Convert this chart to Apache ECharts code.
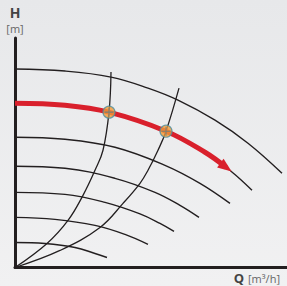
<!DOCTYPE html>
<html>
<head>
<meta charset="utf-8">
<script src="https://cdn.jsdelivr.net/npm/echarts@6/dist/echarts.min.js"></script>
<style>
  html, body {
    margin: 0;
    padding: 0;
    width: 287px;
    height: 286px;
    background: linear-gradient(#e7e8ea, #f1f1f2);
  }
  #chart {
    width: 287px;
    height: 286px;
  }
</style>
</head>
<body>
<div id="chart"></div>
<script>
// pump curves, [Q, H] in chart units (origin bottom-left)
const pump1 = [[0, 198], [50, 196], [96, 190], [133, 179], [163, 167], [200, 147], [233, 124], [267, 94]]
const pump2 = [[0, 164], [50, 162], [94, 155], [151, 136], [190, 115], [216, 96], [237, 77]]
const pump3 = [[0, 130], [50, 128], [100, 120], [150, 102], [185, 84], [215, 64]]
const pump4 = [[0, 101], [50, 99], [100, 89], [140, 75], [165, 62], [184, 50]]
const pump5 = [[0, 75], [50, 73], [90, 65], [125, 53.5], [145, 44], [159, 36]]
const pump6 = [[0, 50], [40, 48], [80, 42], [110, 33], [133, 23]]
const pump7 = [[0, 25], [30, 24], [60, 20], [80, 14], [92, 10]]

// system curves
const system1 = [[0, 0], [32, 24], [53, 47], [68, 72], [80, 97], [88, 117], [94, 155], [96, 195]]
const system2 = [[0, 0], [45, 17], [85, 40], [108, 64], [125, 84], [133, 97], [143, 117], [151, 136], [164, 179]]

// red operating curve and duty points
const redCurve = [[0, 164], [50, 162], [94, 155], [151, 136], [190, 115], [211, 100]]
const dutyPoints = [[94, 155], [151, 136]]

const black = '#231f20'
const pumpCurves = [pump1, pump2, pump3, pump4, pump5, pump6, pump7]
const seriesArr = []
pumpCurves.forEach((item) => {
  seriesArr.push({
    type: 'line',
    data: item,
    smooth: 0.4,
    symbol: 'none',
    lineStyle: { color: black, width: 1.4 },
    z: 2
  })
})
;[system1, system2].forEach((item) => {
  seriesArr.push({
    type: 'line',
    data: item,
    smooth: 0.4,
    symbol: 'none',
    lineStyle: { color: black, width: 1.3 },
    z: 2
  })
})

const redData = redCurve.map((p, i) => {
  if (i === redCurve.length - 1) {
    return { value: p, symbol: 'triangle', symbolSize: [11, 14], symbolRotate: -126 }
  }
  return { value: p, symbol: 'none' }
})
seriesArr.push({
  type: 'line',
  data: redData,
  smooth: 0.4,
  symbol: 'none',
  itemStyle: { color: '#d9202c' },
  lineStyle: { color: '#d9202c', width: 5 },
  z: 5
})
seriesArr.push({
  type: 'scatter',
  data: dutyPoints,
  symbol: 'circle',
  symbolSize: 12,
  itemStyle: { color: '#f29a36', borderColor: '#4f8d9c', borderWidth: 1.2 },
  z: 6
})
seriesArr.push({
  type: 'scatter',
  data: dutyPoints,
  symbol: 'path://M4.4,0h1.2v10h-1.2zM0,4.4h10v1.2h-10z',
  symbolSize: 9,
  itemStyle: { color: '#5a7e86' },
  z: 7
})

const myChart = echarts.init(document.getElementById('chart'), null, { renderer: 'svg' })
myChart.setOption({
  animation: false,
  grid: { left: 15, right: 0, top: 38, bottom: 18.5 },
  xAxis: {
    type: 'value',
    min: 0,
    max: 272,
    axisLine: { show: true, lineStyle: { color: black, width: 3 } },
    axisTick: { show: false },
    axisLabel: { show: false },
    splitLine: { show: false }
  },
  yAxis: {
    type: 'value',
    min: 0,
    max: 229,
    axisLine: { show: true, lineStyle: { color: black, width: 3 } },
    axisTick: { show: false },
    axisLabel: { show: false },
    splitLine: { show: false }
  },
  graphic: [
    { type: 'text', x: 15, y: 12, style: { text: 'H', font: 'bold 14px "Open Sans"', fill: '#444', textAlign: 'center', textVerticalAlign: 'middle' } },
    { type: 'text', x: 15, y: 28, style: { text: '[m]', font: '11px "Open Sans"', fill: '#666', textAlign: 'center', textVerticalAlign: 'middle' } },
    { type: 'text', x: 239, y: 277.5, style: { text: 'Q', font: 'bold 13px "Open Sans"', fill: '#444', textAlign: 'center', textVerticalAlign: 'middle' } },
    { type: 'text', x: 248, y: 278, style: { text: '[m³/h]', font: '11px "Open Sans"', fill: '#666', textAlign: 'left', textVerticalAlign: 'middle' } }
  ],
  series: seriesArr
})
</script>
</body>
</html>
